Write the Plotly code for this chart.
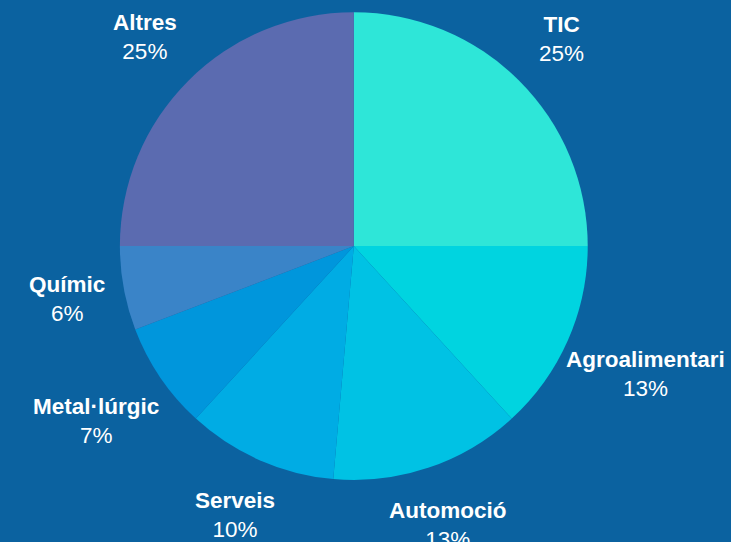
import math
import plotly.graph_objects as go

labels = ["TIC", "Agroalimentari", "Automoció", "Serveis", "Metal·lúrgic", "Químic", "Altres"]
values = [25.0, 13.2, 13.2, 10.4, 7.4, 5.8, 25.0]
colors = ["#2ee6d8", "#00d4e0", "#00c2e4", "#00ace4", "#0096dc", "#3a84c8", "#5b6bb0"]

W, H = 731, 542
BG = "#0b62a0"
FONT = "Liberation Sans, Arial, sans-serif"
FS = 22.5

dom_x = [0.164, 0.804]
dom_y = [0.114, 0.978]

fig = go.Figure(go.Pie(
    labels=labels,
    values=values,
    sort=False,
    direction="clockwise",
    rotation=0,
    marker=dict(colors=colors, line=dict(width=0)),
    textinfo="none",
    hoverinfo="label+percent",
    showlegend=False,
    domain=dict(x=dom_x, y=dom_y),
))

# label placement outside the pie, derived from slice mid-angles
cx = (dom_x[0] + dom_x[1]) / 2 * W
cy = (1 - (dom_y[0] + dom_y[1]) / 2) * H
r = min((dom_x[1] - dom_x[0]) * W, (dom_y[1] - dom_y[0]) * H) / 2
total = sum(values)
cum = 0.0
annotations = []
for lab, v in zip(labels, values):
    mid = (cum + v / 2) / total * 2 * math.pi
    cum += v
    vx, vy = math.sin(mid), -math.cos(mid)
    pct = round(v / total * 100)
    w = max(len(lab) * 0.52 * 22, 2.0 * 22 + 14)
    s = abs(vx) * (w + 8) / 2 + abs(vy) * 32
    d = r * 1.14 + 0.575 * s
    px, py = cx + vx * d, cy + vy * d
    annotations.append(dict(
        x=px / W, y=1 - py / H, xref="paper", yref="paper",
        text=f"<b>{lab}</b><br>{pct}%",
        showarrow=False, xanchor="center", yanchor="middle",
        font=dict(family=FONT, size=FS, color="white"),
    ))

fig.update_layout(
    width=W,
    height=H,
    margin=dict(l=0, r=0, t=0, b=0),
    paper_bgcolor=BG,
    plot_bgcolor=BG,
    annotations=annotations,
)

fig.write_html(
    "out.html",
    config={"displayModeBar": False},
    post_script="document.body.style.margin='0';document.body.style.background='%s';" % BG,
)
